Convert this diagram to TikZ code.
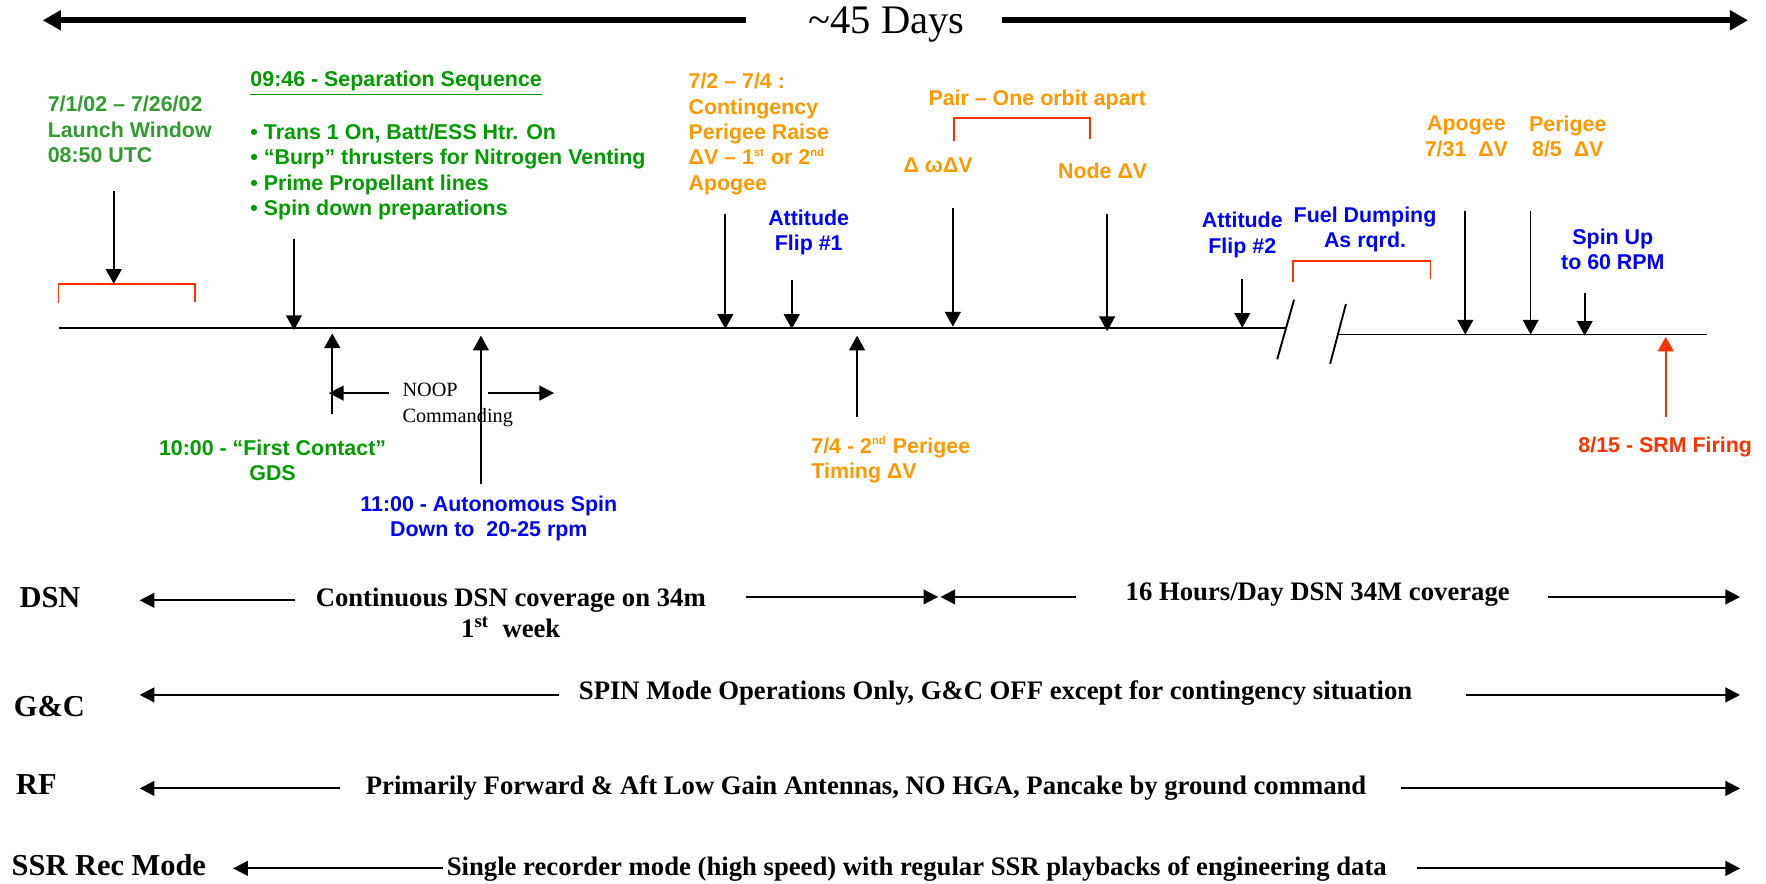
\documentclass[tikz,border=0pt]{standalone}
\usepackage{fontspec}
\setmainfont{Liberation Serif}
\setsansfont{Liberation Sans}
\usepackage{tikz}
\usetikzlibrary{arrows.meta}
\definecolor{lgreen}{RGB}{51,153,51}
\definecolor{sgreen}{RGB}{0,153,0}
\definecolor{orng}{RGB}{255,153,0}
\definecolor{evblue}{RGB}{0,0,255}
\definecolor{evred}{RGB}{255,51,0}
\newcommand{\tlY}{291}
\newcommand{\tlYr}{297}
\newcommand{\rowEnd}{1545}
\newcommand{\downEvents}{launch/101/170/252, sep/261/212/293, cpr/644/190/292, flipA/703/249/292, aw/846/185/290, nodedv/983/190/294, flipB/1103/248/291, apo/1301/187/297, per/1359/187/297, spin/1407/260/298}
\newcommand{\upEvents}{fc/295/368/296, auto/427/430/298, timing/761/370/298}

\begin{document}
\begin{tikzpicture}[x=0.5pt,y=-0.5pt,
	lbl/.style={font={\sffamily\bfseries\fontsize{9.5}{11.3}\selectfont}, inner sep=0pt},
	rowtxt/.style={font={\bfseries\fontsize{11.85}{14}\selectfont}, inner sep=0pt},
	rowname/.style={font={\bfseries\fontsize{13.5}{16}\selectfont}, inner sep=0pt, anchor=west},
	evarrow/.style={-{Triangle[length=6.5pt,width=7pt]}, line width=0.75pt},
	rowarrow/.style={-{Triangle[length=6.5pt,width=6.5pt]}, line width=0.9pt},
	bigarrow/.style={-{Triangle[length=8pt,width=8.5pt]}, line width=2.8pt},
	bracket/.style={draw=evred, line width=0.75pt},
	tline/.style={line width=0.85pt}]
	\useasboundingbox (0,0) rectangle (1568,784);

	% duration bar
	\node[font=\fontsize{18}{20}\selectfont, inner sep=0pt] (days) at (787,22) {\textasciitilde 45 Days};
	\coordinate (daysLa) at (662,18); \coordinate (daysLb) at (38,18);
	\coordinate (daysRa) at (890,18); \coordinate (daysRb) at (1552,18);
	\draw[bigarrow] (daysLa) -- (daysLb);
	\draw[bigarrow] (daysRa) -- (daysRb);

	% time line with break
	\coordinate (tl0) at (52,\tlY); \coordinate (tl1) at (1141,\tlY);
	\coordinate (tl2) at (1188,\tlYr); \coordinate (tl3) at (1516,\tlYr);
	\draw[tline] (tl0) -- (tl1);
	\draw[tline] (tl2) -- (tl3);
	\coordinate (brkAa) at (1134,319); \coordinate (brkAb) at (1149,266);
	\coordinate (brkBa) at (1181,323); \coordinate (brkBb) at (1195,270);
	\draw[tline] (brkAa) -- (brkAb);
	\draw[tline] (brkBa) -- (brkBb);

	\foreach \n/\x/\ya/\yb in \downEvents
	{
		\coordinate (\n-a) at (\x,\ya);
		\coordinate (\n-b) at (\x,\yb);
		\draw[evarrow] (\n-a) -- (\n-b);
	}
	\foreach \n/\x/\ya/\yb in \upEvents
	{
		\coordinate (\n-a) at (\x,\ya);
		\coordinate (\n-b) at (\x,\yb);
		\draw[evarrow] (\n-a) -- (\n-b);
	}
	\coordinate (srm-a) at (1479,370); \coordinate (srm-b) at (1479,299);
	\draw[evarrow, evred] (srm-a) -- (srm-b);

	% brackets
	\draw[bracket] (52,269) -- (52,252) -- (173,252) -- (173,268);
	\draw[bracket] (847,125) -- (847,105) -- (968,105) -- (968,123);
	\draw[bracket] (1148,250) -- (1148,232) -- (1270,232) -- (1270,248);

	% labels above the line
	\node[lbl, text=lgreen, align=left, anchor=west] (launch) at (42,115) {7/1/02 – 7/26/02\\Launch Window\\08:50 UTC};
	\node[lbl, text=sgreen, anchor=west] (sephead) at (222,74) {\underline{09:46 - Separation Sequence}};
	\node[lbl, text=sgreen, align=left, anchor=west] (sepitems) at (222,152.5) {• Trans 1 On, Batt/ESS Htr. On\\• “Burp” thrusters for Nitrogen Venting\\• Prime Propellant lines\\• Spin down preparations};
	\node[lbl, text=orng, align=left, anchor=west] (cpr) at (611,119) {7/2 – 7/4 :\\Contingency\\Perigee Raise\\ΔV – 1\textsuperscript{\tiny st} or 2\textsuperscript{\tiny nd}\\Apogee};
	\node[lbl, text=evblue, align=center] (flipA) at (718,206.5) {Attitude\\Flip \#1};
	\node[lbl, text=orng] (pair) at (921,89) {Pair – One orbit apart};
	\node[lbl, text=orng] (awdv) at (833,147) {Δ ωΔV};
	\node[lbl, text=orng] (nodedv) at (979,152) {Node ΔV};
	\node[lbl, text=evblue, align=center] (flipB) at (1103,208.5) {Attitude\\Flip \#2};
	\node[lbl, text=evblue, align=center] (fuel) at (1212,203.5) {Fuel Dumping\\As rqrd.};
	\node[lbl, text=orng, align=center] (apo) at (1302,121) {Apogee\\7/31\ \ ΔV};
	\node[lbl, text=orng, align=center] (per) at (1392,121) {Perigee\\8/5\ \ ΔV};
	\node[lbl, text=evblue, align=center] (spin) at (1432,221.5) {Spin Up\\to 60 RPM};

	% labels below the line
	\node[lbl, text=sgreen, align=center] (fc) at (242,408.5) {10:00 - “First Contact”\\GDS};
	\node[lbl, text=evblue, align=center] (auto) at (434,460.5) {11:00 - Autonomous Spin\\Down to\ \ 20-25 rpm};
	\node[lbl, text=orng, align=left, anchor=west] (timing) at (720,408.5) {7/4 - 2\textsuperscript{\tiny nd} Perigee\\Timing ΔV};
	\node[lbl, text=evred, anchor=east] (srm) at (1556,397) {8/15 - SRM Firing};
	\node[font=\fontsize{9}{11.5}\selectfont, inner sep=0pt, align=left, anchor=west] (noop) at (357,359.5) {NOOP\\Commanding};
	\coordinate (noopLa) at (345,349); \coordinate (noopLb) at (292,349);
	\coordinate (noopRa) at (433,349); \coordinate (noopRb) at (492,349);
	\draw[rowarrow] (noopLa) -- (noopLb);
	\draw[rowarrow] (noopRa) -- (noopRb);

	% activity rows
	\node[rowname] (dsn) at (17,531) {DSN};
	\node[rowname] (gnc) at (12,627) {G\&C};
	\node[rowname] (rf) at (14,697) {RF};
	\node[rowname] (ssr) at (10,768) {SSR Rec Mode};

	\node[rowtxt, align=center] (dsnA) at (453.5,544) {Continuous DSN coverage on 34m\\1\textsuperscript{st}\ \ week};
	\node[rowtxt] (dsnB) at (1170,528) {16 Hours/Day DSN 34M coverage};
	\node[rowtxt] (gncA) at (884,615) {SPIN Mode Operations Only, G\&C OFF except for contingency situation};
	\node[rowtxt] (rfA) at (769,700) {Primarily Forward \& Aft Low Gain Antennas, NO HGA, Pancake by ground command};
	\node[rowtxt] (ssrA) at (814,772) {Single recorder mode (high speed) with regular SSR playbacks of engineering data};

	\foreach \n/\xa/\xb/\y in {dsn1/262/124/533, dsn2/662/833/530, dsn3/955/835/530, dsn4/1374/\rowEnd/530, gnc1/496/124/617, gnc2/1302/\rowEnd/617, rf1/302/124/700, rf2/1244/\rowEnd/700, ssr1/393/207/771, ssr2/1258/\rowEnd/771}
	{
		\coordinate (\n-a) at (\xa,\y);
		\coordinate (\n-b) at (\xb,\y);
		\draw[rowarrow] (\n-a) -- (\n-b);
	}
\end{tikzpicture}
\end{document}
